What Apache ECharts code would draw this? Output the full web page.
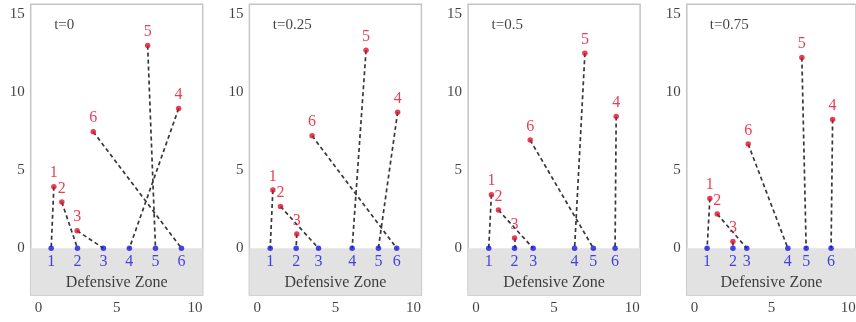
<!DOCTYPE html>
<html><head><meta charset="utf-8">
<script src="https://cdn.jsdelivr.net/npm/echarts@6/dist/echarts.min.js"></script>
<style>html,body{margin:0;padding:0;background:#fff}#c{width:856px;height:322px}</style>
</head><body><div id="c"></div>
<script>
const times = ['t=0', 't=0.25', 't=0.5', 't=0.75'];
const playerLabels = ['1', '2', '3', '4', '5', '6'];
const xTicks = [0, 5, 10];
const yTicks = [0, 5, 10, 15];
const zoneLabel = 'Defensive Zone';

// offense (red) positions per time
const offenseX = [
  [0.98, 1.49, 2.47, 8.96, 6.98, 3.50],
  [1.00, 1.49, 2.53, 8.98, 6.96, 3.51],
  [0.99, 1.44, 2.47, 8.97, 6.97, 3.47],
  [1.00, 1.48, 2.50, 8.98, 6.98, 3.49]
];
const offenseY = [
  [3.94, 2.96, 1.12, 8.96, 13.00, 7.47],
  [3.73, 2.68, 0.91, 8.73, 12.70, 7.21],
  [3.43, 2.45, 0.65, 8.45, 12.51, 6.94],
  [3.19, 2.19, 0.44, 8.26, 12.23, 6.68]
];
// defense (blue) positions on y=0 per time
const defenseX = [
  [0.81, 2.49, 4.15, 5.81, 7.48, 9.14],
  [0.83, 2.49, 3.92, 6.07, 7.75, 8.92],
  [0.82, 2.47, 3.66, 6.31, 7.51, 8.90],
  [0.82, 2.50, 3.40, 6.07, 7.26, 8.88]
];
// which defender (1-based) each attacker is linked to
const assignment = [
  [1, 2, 3, 4, 5, 6],
  [1, 3, 2, 5, 4, 6],
  [1, 3, 2, 6, 4, 5],
  [1, 3, 2, 6, 5, 4]
];

const FONT = '"Liberation Serif", "DejaVu Serif", serif';
const RED = '#e0102a', BLUE = '#1818dd', INK = '#111';
const panelLeft0 = 30.7, panelStep = 218.7, panelW = 172, panelTop = 4.3, panelH = 290.7;
const X_MIN = -0.5, X_MAX = 10.5, Y_MIN = -3, Y_MAX = 15.65;

const grids = [], xAxes = [], yAxes = [], series = [];
times.forEach((t, i) => {
  grids.push({left: panelLeft0 + panelStep * i, top: panelTop, width: panelW, height: panelH,
    show: true, borderColor: '#c4c4c4', borderWidth: 1.5, backgroundColor: '#fff', containLabel: false});
  xAxes.push({type: 'value', gridIndex: i, min: X_MIN, max: X_MAX,
    axisLine: {show: false}, axisTick: {show: false}, splitLine: {show: false},
    axisLabel: {show: false}});
  yAxes.push({type: 'value', gridIndex: i, min: Y_MIN, max: Y_MAX,
    axisLine: {show: false}, axisTick: {show: false}, splitLine: {show: false},
    axisLabel: {show: false}});
  // tick labels placed through the axes
  series.push({type: 'scatter', xAxisIndex: i, yAxisIndex: i, symbolSize: 0, silent: true,
    data: xTicks.map(v => ({value: [v, Y_MIN], name: String(v)})),
    label: {show: true, position: 'bottom', distance: 6, formatter: p => p.name,
      color: INK, fontFamily: FONT, fontSize: 15}, clip: false, z: 5});
  series.push({type: 'scatter', xAxisIndex: i, yAxisIndex: i, symbolSize: 0, silent: true,
    data: yTicks.map(v => ({value: [X_MIN, v], name: String(v)})),
    label: {show: true, position: 'left', distance: 6, formatter: p => p.name,
      color: INK, fontFamily: FONT, fontSize: 15}, clip: false, z: 5});
  // defensive zone
  series.push({type: 'scatter', xAxisIndex: i, yAxisIndex: i, symbolSize: 0, silent: true,
    data: [{value: [5, -2.2], name: zoneLabel}],
    label: {show: true, position: 'inside', formatter: p => p.name, color: INK,
      fontFamily: FONT, fontSize: 16},
    markArea: {silent: true, itemStyle: {color: '#e2e2e2'},
      data: [[{yAxis: Y_MIN, xAxis: X_MIN}, {yAxis: 0, xAxis: X_MAX}]]}, z: 3});
  // time label
  series.push({type: 'scatter', xAxisIndex: i, yAxisIndex: i, symbolSize: 0, silent: true,
    data: [{value: [1.0, 14.3], name: t}],
    label: {show: true, position: 'right', distance: 0, formatter: p => p.name, color: INK,
      fontFamily: FONT, fontSize: 15}, z: 5});
  // links
  series.push({type: 'lines', coordinateSystem: 'cartesian2d', xAxisIndex: i, yAxisIndex: i,
    silent: true, z: 4,
    lineStyle: {color: '#383838', width: 1.7, type: [4, 3], opacity: 1},
    data: offenseX[i].map((x, k) => ({coords: [[x, offenseY[i][k]], [defenseX[i][assignment[i][k] - 1], 0]]}))});
  // offense points
  series.push({type: 'scatter', xAxisIndex: i, yAxisIndex: i, symbolSize: 5.5, z: 6,
    itemStyle: {color: RED},
    data: offenseX[i].map((x, k) => ({value: [x, offenseY[i][k]], name: playerLabels[k]})),
    label: {show: true, position: 'top', distance: 3, formatter: p => p.name, color: RED,
      fontFamily: FONT, fontSize: 16}});
  // defense points
  series.push({type: 'scatter', xAxisIndex: i, yAxisIndex: i, symbolSize: 5.5, z: 6,
    itemStyle: {color: BLUE},
    data: defenseX[i].map((x, k) => ({value: [x, 0], name: playerLabels[k]})),
    label: {show: true, position: 'bottom', distance: 3, formatter: p => p.name, color: BLUE,
      fontFamily: FONT, fontSize: 16}});
});

const chart = echarts.init(document.getElementById('c'), null, {renderer: 'canvas'});
chart.setOption({animation: false, backgroundColor: '#fff', grid: grids, xAxis: xAxes, yAxis: yAxes, series: series});
</script></body></html>
